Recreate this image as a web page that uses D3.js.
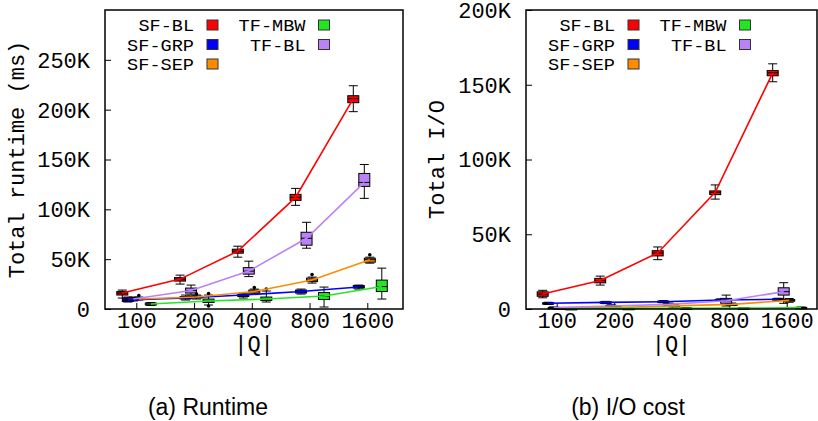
<!DOCTYPE html>
<html>
<head>
<meta charset="utf-8">
<script src="https://cdn.jsdelivr.net/npm/d3@7/dist/d3.min.js"></script>
<style>
  html, body { margin: 0; padding: 0; background: #fff; }
  svg { display: block; }
  .mono { font-family: "Liberation Mono", "Courier New", monospace; fill: #000; }
  .cap { font-family: "Liberation Sans", Arial, Helvetica, sans-serif; fill: #000; }
</style>
</head>
<body>
<svg id="chart" width="818" height="421"></svg>
<script>
// |Q| values on the x axis
const categories = ["100", "200", "400", "800", "1600"];
const seriesNames = ["SF-BL", "SF-GRP", "SF-SEP", "TF-MBW", "TF-BL"];
const seriesColors = ["#ff0000", "#0000ff", "#ff8c00", "#22e622", "#b983f7"];

// Runtime in thousands of ms: [low whisker, q1, median, q3, high whisker] per |Q|
const runtimeSFBL  = [[11, 14, 16, 17.5, 19], [25, 28, 30, 31.5, 34], [52, 56, 58, 60, 63], [104, 109, 112, 115, 121], [198, 207, 211, 214, 224]];
const runtimeSFGRP = [[7, 7.5, 9, 11, 12], [9, 10, 11, 12.5, 14], [11, 12.5, 14, 15, 16], [15, 16, 17.5, 19, 20], [20, 21, 22, 23.5, 24]];
const runtimeSFSEP = [[9, 9.5, 10, 11, 12], [10, 11, 12, 13, 14], [15, 16, 17.5, 19, 20], [26, 27.5, 29, 31, 32], [46, 47, 49.5, 51, 52]];
const runtimeTFMBW = [[3.5, 4, 5, 6, 6.5], [4, 6.5, 8, 10, 14], [7, 8.5, 10, 12, 18], [2, 9.5, 13, 16.5, 22], [10, 17.5, 22.5, 29, 41]];
const runtimeTFBL  = [[8, 9, 10, 11, 12], [14, 16, 18.5, 21, 24], [32.5, 35, 38, 41.5, 48], [61, 64, 71, 77, 87], [111, 123, 127, 136, 145]];
// Outliers: [series index, |Q| index, value]
const runtimeOutliers = [[2, 0, 13.5], [2, 1, 15], [2, 2, 21.5], [2, 3, 34.5], [2, 4, 54.5], [3, 1, 15.5], [3, 1, 3], [3, 2, 20]];

// I/O cost in thousands: [low whisker, q1, median, q3, high whisker] per |Q|
const ioSFBL  = [[7.5, 8.5, 10, 11.5, 12.5], [16, 17.5, 19, 20.5, 22], [33, 35.5, 37.5, 39, 41.5], [73.5, 76.5, 78, 79, 83], [152, 156, 158, 159.5, 164]];
const ioSFGRP = [[3, 3.3, 3.8, 4.2, 4.5], [3.6, 4, 4.4, 4.8, 5.1], [4.2, 4.5, 4.9, 5.3, 5.6], [5.3, 5.6, 6, 6.4, 6.8], [5.8, 6.1, 6.5, 6.9, 7.2]];
const ioSFSEP = [[0.2, 0.3, 0.5, 0.7, 0.9], [0.6, 0.8, 1, 1.2, 1.5], [1.5, 1.8, 2.1, 2.4, 2.8], [2.3, 2.7, 3.1, 3.5, 4], [4.5, 5.2, 5.8, 6.3, 7]];
const ioTFMBW = [[0.1, 0.2, 0.3, 0.4, 0.5], [0.2, 0.3, 0.4, 0.5, 0.7], [0.3, 0.4, 0.5, 0.7, 0.9], [0.4, 0.5, 0.6, 0.8, 1], [0.5, 0.7, 0.9, 1.1, 1.3]];
const ioTFBL  = [[0.5, 0.7, 0.9, 1.1, 1.4], [1.4, 1.7, 2, 2.4, 2.8], [2.3, 2.7, 3.1, 3.5, 4], [2, 3.8, 5.5, 7.1, 9.3], [3.8, 9.3, 11.6, 14.2, 17.6]];
const ioOutliers = [];

const runtimeTicks = [0, 50, 100, 150, 200, 250];
const ioTicks = [0, 50, 100, 150, 200];

// Horizontal shift of each series' box inside a |Q| group
const seriesShift = [-14, -8.5, 2.5, 14.5, -3];
const boxWidth = 11;
const capWidth = 9;

const svg = d3.select("#chart");

const panels = [
  { series: [runtimeSFBL, runtimeSFGRP, runtimeSFSEP, runtimeTFMBW, runtimeTFBL], outliers: runtimeOutliers,
    ticks: runtimeTicks, yMax: 300, left: 105, right: 403, firstX: 136.3, lastX: 367.3,
    yTitle: "Total runtime (ms)", yTitleX: 17, caption: "(a) Runtime", captionX: 208 },
  { series: [ioSFBL, ioSFGRP, ioSFSEP, ioTFMBW, ioTFBL], outliers: ioOutliers,
    ticks: ioTicks, yMax: 200, left: 526, right: 817, firstX: 556.7, lastX: 786.7,
    yTitle: "Total I/O", yTitleX: 437, caption: "(b) I/O cost", captionX: 628 }
];

const plotTop = 10, plotBottom = 309;

panels.forEach(p => {
  const g = svg.append("g");
  const x = d3.scalePoint().domain(categories).range([p.firstX, p.lastX]);
  const y = d3.scaleLinear().domain([0, p.yMax]).range([plotBottom, plotTop]);

  // y axis: ticks point inward, labels to the left
  const yAxis = g.append("g").attr("transform", `translate(${p.left},0)`)
    .call(d3.axisRight(y).tickValues(p.ticks).tickSize(6).tickFormat(d => d === 0 ? "0" : d + "K"));
  yAxis.select(".domain").remove();
  yAxis.selectAll(".tick line").attr("stroke", "#000").attr("stroke-width", 1);
  yAxis.selectAll(".tick text").attr("class", "mono").attr("x", -15).attr("dy", "0.34em")
    .attr("text-anchor", "end").style("font-size", "22px");

  // x axis: ticks point up from the bottom frame
  const xAxis = g.append("g").attr("transform", `translate(0,${plotBottom})`)
    .call(d3.axisTop(x).tickSize(6));
  xAxis.select(".domain").remove();
  xAxis.selectAll(".tick line").attr("stroke", "#000").attr("stroke-width", 1);
  xAxis.selectAll(".tick text").attr("class", "mono").attr("y", 19).attr("dy", 0)
    .attr("text-anchor", "middle").style("font-size", "22px");

  // Boxes with whiskers
  p.series.forEach((data, si) => {
    const color = seriesColors[si];
    const bg = g.append("g");
    data.forEach((v, ci) => {
      const cx = x(categories[ci]) + seriesShift[si];
      const [lo, q1, med, q3, hi] = v;
      bg.append("line").attr("x1", cx).attr("x2", cx).attr("y1", y(hi)).attr("y2", y(q3))
        .attr("stroke", "#000").attr("stroke-width", 1);
      bg.append("line").attr("x1", cx).attr("x2", cx).attr("y1", y(q1)).attr("y2", y(lo))
        .attr("stroke", "#000").attr("stroke-width", 1);
      [lo, hi].forEach(w => bg.append("line")
        .attr("x1", cx - capWidth / 2).attr("x2", cx + capWidth / 2)
        .attr("y1", y(w)).attr("y2", y(w)).attr("stroke", "#000").attr("stroke-width", 1));
      bg.append("rect").attr("x", cx - boxWidth / 2).attr("width", boxWidth)
        .attr("y", y(q3)).attr("height", Math.max(1.5, y(q1) - y(q3)))
        .attr("fill", color).attr("stroke", "#000").attr("stroke-width", 1);
      bg.append("line").attr("x1", cx - boxWidth / 2).attr("x2", cx + boxWidth / 2)
        .attr("y1", y(med)).attr("y2", y(med)).attr("stroke", "#000").attr("stroke-width", 1);
    });
  });

  // Outlier points
  g.append("g").selectAll("circle").data(p.outliers).join("circle")
    .attr("cx", d => x(categories[d[1]]) + seriesShift[d[0]])
    .attr("cy", d => y(d[2])).attr("r", 1.8).attr("fill", "#000");

  // Median lines per series
  p.series.forEach((data, si) => {
    const line = d3.line()
      .x((v, ci) => x(categories[ci]) + seriesShift[si])
      .y(v => y(v[2]));
    g.append("path").datum(data).attr("d", line).attr("fill", "none")
      .attr("stroke", seriesColors[si]).attr("stroke-width", 1.6);
  });

  // Plot frame
  g.append("rect").attr("x", p.left).attr("y", plotTop).attr("width", p.right - p.left)
    .attr("height", plotBottom - plotTop).attr("fill", "none").attr("stroke", "#000").attr("stroke-width", 1.5);

  // Legend: two columns, labels right-aligned before the swatch.
  // Labels use a compact size stretched to a wide monospace advance.
  const legendCols = [[0, 1, 2], [3, 4]];
  legendCols.forEach((col, c) => {
    col.forEach((si, r) => {
      const ty = 25 + r * 19.5;
      const textEnd = p.left + 89 + c * 111.5;
      const name = seriesNames[si];
      g.append("text").attr("class", "mono").attr("x", textEnd).attr("y", ty).attr("dy", "0.36em")
        .attr("text-anchor", "end").style("font-size", "17px")
        .attr("textLength", name.length * 11.4 - 1.5).attr("lengthAdjust", "spacingAndGlyphs")
        .text(name);
      g.append("rect").attr("x", textEnd + 13).attr("y", ty - 5).attr("width", 11).attr("height", 10)
        .attr("fill", seriesColors[si]).attr("stroke", "#333").attr("stroke-width", 1);
    });
  });

  // Axis titles
  const cxMid = (p.left + p.right) / 2;
  g.append("text").attr("class", "mono").attr("x", cxMid).attr("y", 351)
    .attr("text-anchor", "middle").style("font-size", "22px").text("|Q|");
  g.append("text").attr("class", "mono")
    .attr("transform", `translate(${p.yTitleX},${(plotTop + plotBottom) / 2}) rotate(-90)`)
    .attr("dy", "0.34em").attr("text-anchor", "middle").style("font-size", "22px").text(p.yTitle);

  // Panel caption
  g.append("text").attr("class", "cap").attr("x", p.captionX).attr("y", 415)
    .attr("text-anchor", "middle").style("font-size", "23px").text(p.caption);
});
</script>
</body>
</html>
